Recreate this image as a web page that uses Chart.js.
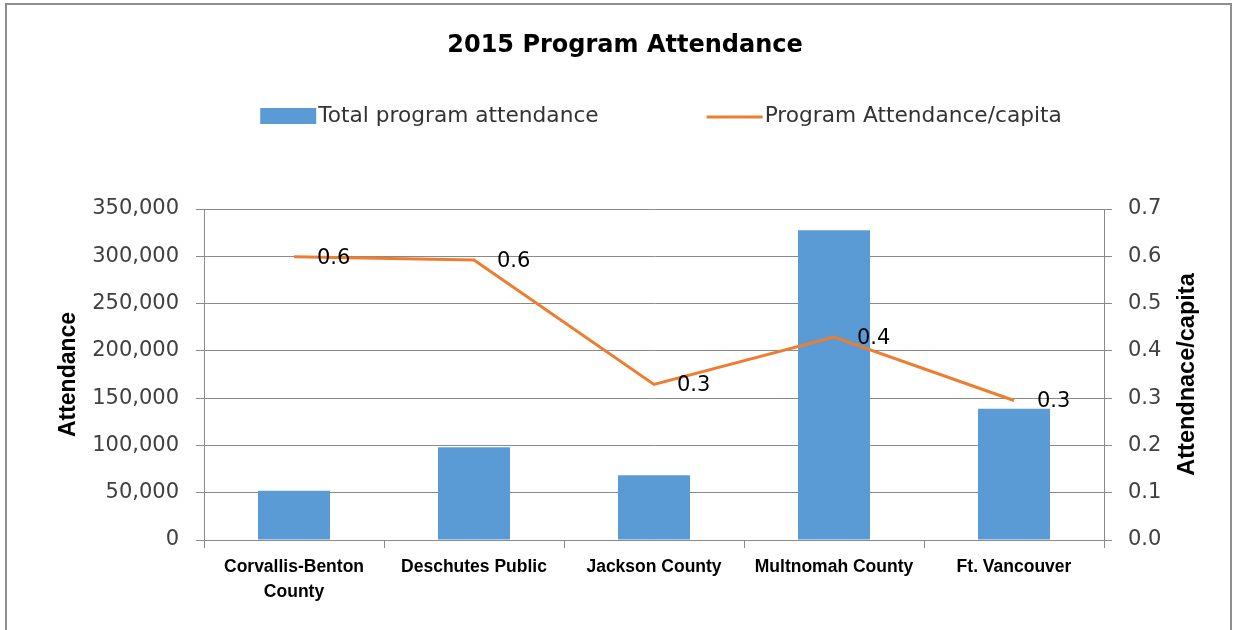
<!DOCTYPE html>
<html>
<head>
<meta charset="utf-8">
<title>2015 Program Attendance</title>
<script src="https://cdn.jsdelivr.net/npm/chart.js@4/dist/chart.umd.min.js"></script>
<style>
  html, body { margin: 0; padding: 0; background: #fff; }
  #wrap { position: absolute; left: 0; top: 0; width: 1233px; height: 630px; }
  #frame { position: absolute; left: 5px; top: 3px; width: 1227px; height: 640px; border: 2px solid #8e8e8e; box-sizing: border-box; pointer-events: none; }
</style>
</head>
<body>
<div id="wrap"><canvas id="grafico"></canvas></div>
<div id="frame"></div>
<script>
var categorias = [['Corvallis-Benton', 'County'], 'Deschutes Public', 'Jackson County', 'Multnomah County', 'Ft. Vancouver'];
var presencaTotal = [52000, 98000, 68400, 327500, 138800];
var presencaPerCapita = [0.599, 0.592, 0.329, 0.429, 0.295];
var tituloGrafico = '2015 Program Attendance';
var tituloEixoEsq = 'Attendance';
var tituloEixoDir = 'Attendnace/capita';
var nomeBarras = 'Total program attendance';
var nomeLinha = 'Program Attendance/capita';

var corBarra = '#5B9BD5';
var corLinha = '#ED7D31';
var corGrade = '#8a8a8a';
var corTexto = '#404040';
var fonteBase = 'DejaVu Sans';
var fonteNegrito = 'Liberation Sans';

// rotulos de valor a direita de cada ponto da linha
var rotulosLinha = {
  id: 'rotulosLinha',
  afterDatasetsDraw: function (chart) {
    var ctx = chart.ctx;
    chart.data.datasets.forEach(function (ds, i) {
      if (ds.type !== 'line') return;
      var meta = chart.getDatasetMeta(i);
      ctx.save();
      ctx.font = '21px "' + fonteBase + '"';
      ctx.fillStyle = '#000';
      ctx.textAlign = 'left';
      ctx.textBaseline = 'middle';
      meta.data.forEach(function (pt, j) {
        ctx.fillText(ds.data[j].toFixed(1), pt.x + 23, pt.y + 1.5);
      });
      ctx.restore();
    });
  }
};

// legenda no estilo do Excel, centrada sobre a area do grafico
var legendaExcel = {
  id: 'legendaExcel',
  afterDraw: function (chart) {
    var ctx = chart.ctx;
    var y = 116;
    var caixa = 56, folga = 2, espaco = 108;
    ctx.save();
    ctx.font = '21.7px "' + fonteBase + '"';
    ctx.textBaseline = 'middle';
    ctx.textAlign = 'left';
    var itens = chart.data.datasets.slice().sort(function (a, b) { return b.order - a.order; });
    var larguras = itens.map(function (ds) { return caixa + folga + ctx.measureText(ds.label).width; });
    var total = larguras.reduce(function (s, w) { return s + w; }, 0) + espaco * (itens.length - 1);
    var x = 661 - total / 2;
    itens.forEach(function (ds, k) {
      if (ds.type === 'line') {
        ctx.strokeStyle = ds.borderColor;
        ctx.lineWidth = 3;
        ctx.beginPath();
        ctx.moveTo(x, y + 1);
        ctx.lineTo(x + caixa, y + 1);
        ctx.stroke();
      } else {
        ctx.fillStyle = ds.backgroundColor;
        ctx.fillRect(x, y - 8, caixa, 16);
      }
      ctx.fillStyle = '#333';
      ctx.fillText(ds.label, x + caixa + folga, y);
      x += larguras[k] + espaco;
    });
    ctx.restore();
  }
};

// titulo do eixo direito, lido de baixo para cima
var tituloDireito = {
  id: 'tituloDireito',
  afterDraw: function (chart) {
    var ctx = chart.ctx;
    var area = chart.chartArea;
    ctx.save();
    ctx.translate(1188, (area.top + area.bottom) / 2);
    ctx.rotate(-Math.PI / 2);
    ctx.font = 'bold 23.5px "' + fonteNegrito + '"';
    ctx.fillStyle = '#000';
    ctx.textAlign = 'center';
    ctx.textBaseline = 'middle';
    ctx.fillText(tituloEixoDir, 0, 0);
    ctx.restore();
  }
};

new Chart(document.getElementById('grafico'), {
  data: {
    labels: categorias,
    datasets: [
      {
        type: 'line',
        label: nomeLinha,
        data: presencaPerCapita,
        yAxisID: 'y1',
        borderColor: corLinha,
        backgroundColor: corLinha,
        borderWidth: 3,
        pointRadius: 0,
        tension: 0,
        order: 0
      },
      {
        type: 'bar',
        label: nomeBarras,
        data: presencaTotal,
        yAxisID: 'y',
        backgroundColor: corBarra,
        barPercentage: 0.4,
        categoryPercentage: 1,
        order: 1
      }
    ]
  },
  options: {
    responsive: true,
    maintainAspectRatio: false,
    animation: false,
    layout: { padding: { left: 17, right: 0, top: 0, bottom: 0 } },
    plugins: {
      legend: { display: false },
      tooltip: { enabled: false },
      title: {
        display: true,
        text: tituloGrafico,
        color: '#000',
        font: { family: fonteBase, size: 24, weight: 'bold' },
        padding: { top: 31.6, bottom: 148.6 }
      }
    },
    scales: {
      x: {
        grid: { offset: true, drawOnChartArea: false, drawTicks: true, tickLength: 8, color: corGrade },
        border: { color: corGrade },
        ticks: {
          color: '#000',
          font: { family: fonteNegrito, size: 17.5, weight: 'bold', lineHeight: 1.45 },
          padding: 6,
          maxRotation: 0,
          autoSkip: false
        },
        afterFit: function (s) { s.height = 90; }
      },
      y: {
        position: 'left',
        min: 0,
        max: 350000,
        ticks: {
          stepSize: 50000,
          color: corTexto,
          padding: 17,
          font: { family: fonteBase, size: 21 },
          callback: function (v) { return Number(v).toLocaleString('en-US'); }
        },
        grid: { color: corGrade, tickLength: 8 },
        border: { color: corGrade },
        title: {
          display: true,
          text: tituloEixoEsq,
          color: '#000',
          font: { family: fonteNegrito, size: 23, weight: 'bold' },
          padding: { top: 38, bottom: 0 }
        },
        afterFit: function (s) { s.width = 187; }
      },
      y1: {
        position: 'right',
        min: 0,
        max: 0.7,
        ticks: {
          stepSize: 0.1,
          color: corTexto,
          padding: 16,
          font: { family: fonteBase, size: 21 },
          callback: function (v) { return Number(v).toFixed(1); }
        },
        grid: { drawOnChartArea: false, color: corGrade, tickLength: 8 },
        border: { color: corGrade },
        afterFit: function (s) { s.width = 129; }
      }
    }
  },
  plugins: [rotulosLinha, legendaExcel, tituloDireito]
});
</script>
</body>
</html>
